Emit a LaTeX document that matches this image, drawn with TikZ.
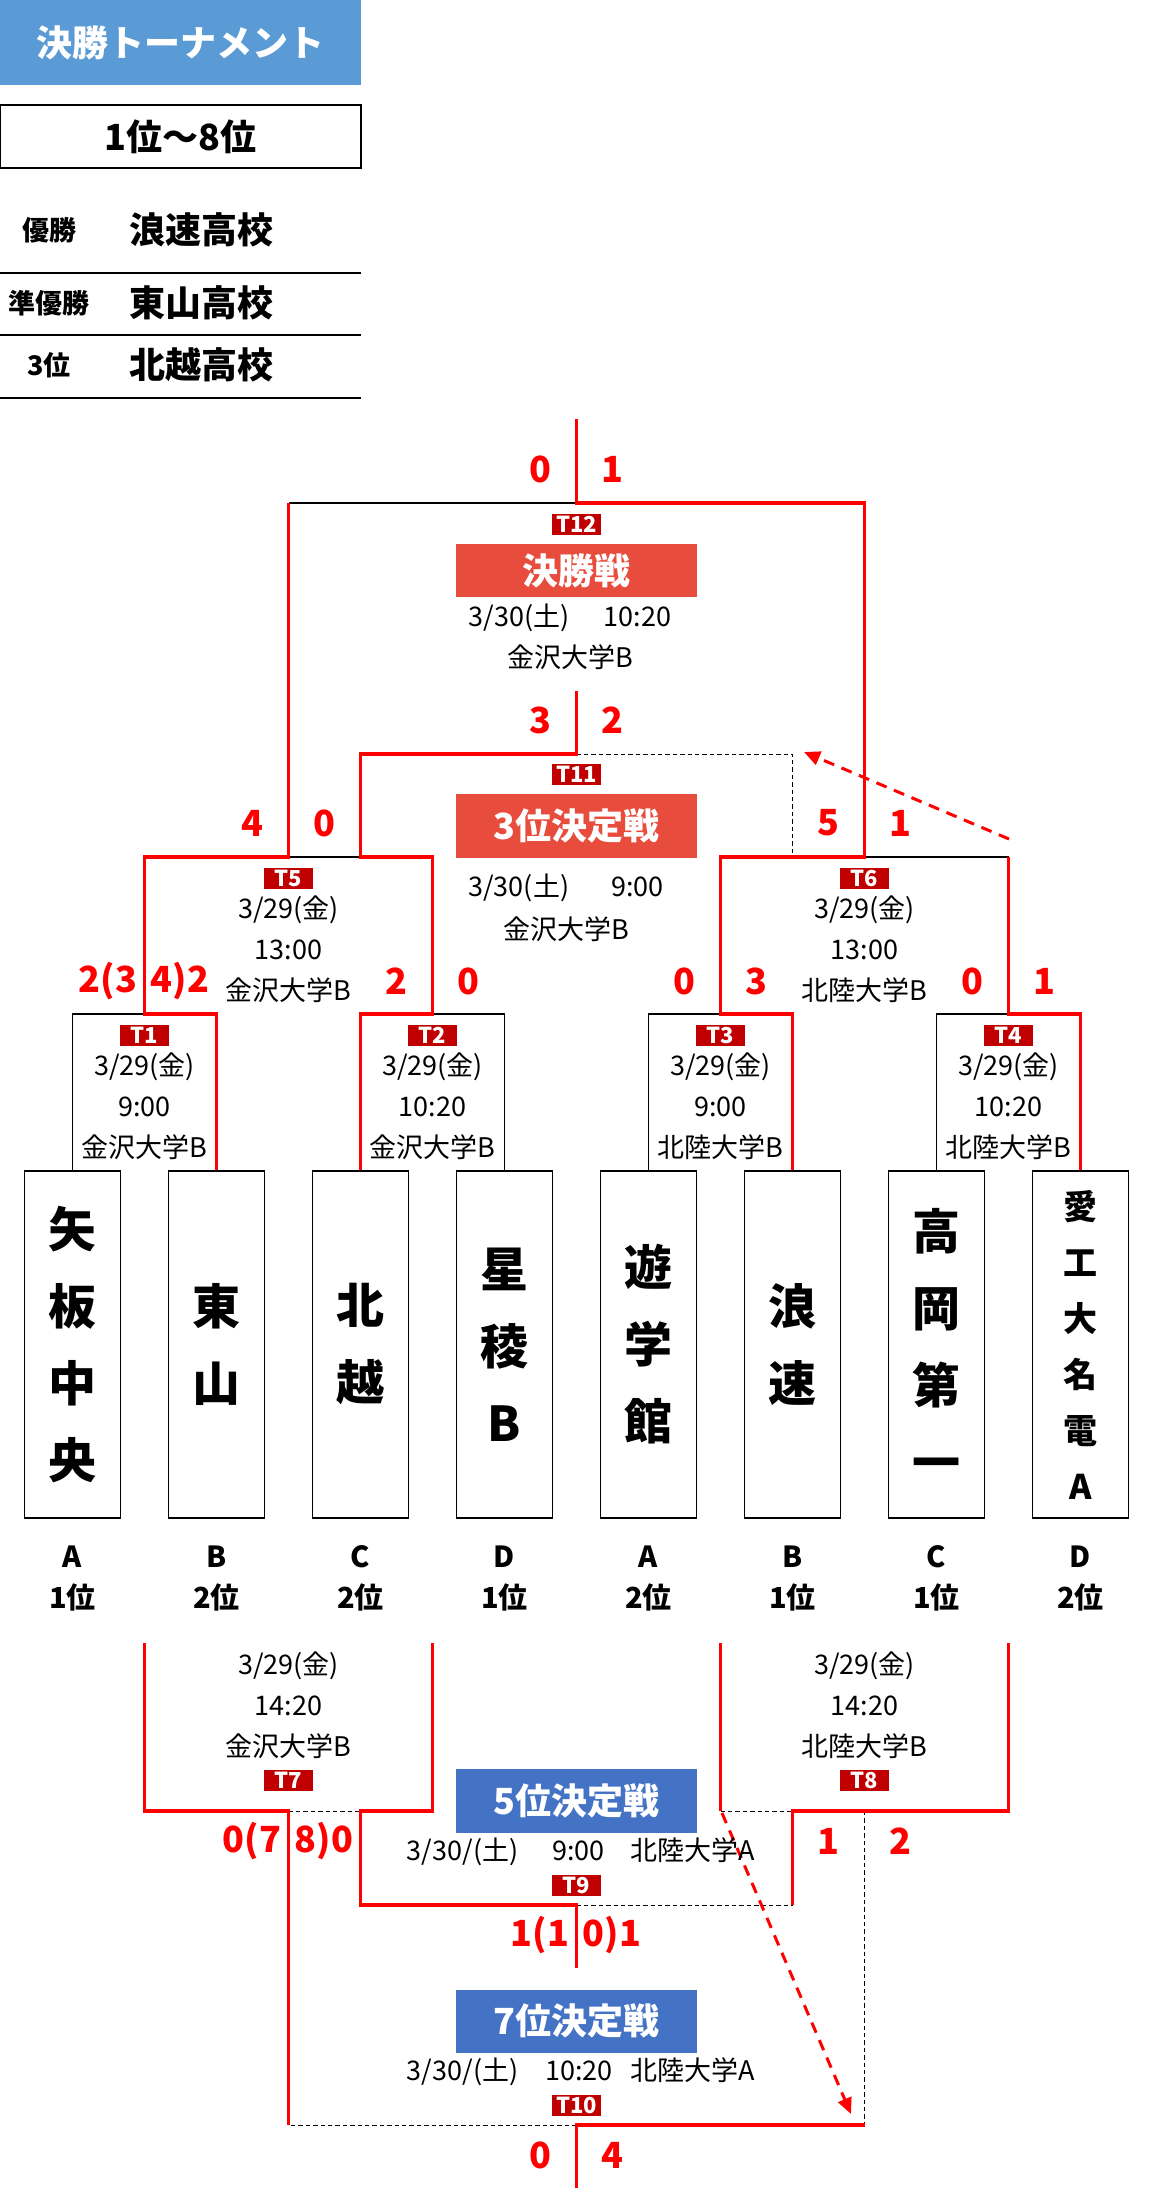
\documentclass[tikz,border=0pt]{standalone}
\usepackage{fontspec}
\setmainfont{Noto Sans CJK JP}
\usetikzlibrary{arrows.meta}
\definecolor{headblue}{HTML}{5B9BD5}
\definecolor{finalred}{HTML}{E74C3C}
\definecolor{tagred}{HTML}{C00000}
\definecolor{rankblue}{HTML}{4472C4}
\definecolor{winred}{HTML}{FF0000}

\tikzset{
  box/.style={draw, line width=0.65pt, inner sep=0pt},
  teambox/.style={box, minimum width=48pt, minimum height=173.5pt, align=center,
    font=\bfseries\fontsize{24pt}{38.5pt}\selectfont},
  smallteam/.style={teambox, font=\bfseries\fontsize{17pt}{28pt}\selectfont},
  info/.style={inner sep=0pt, align=center, font=\fontsize{13.5pt}{20.5pt}\selectfont},
  tag/.style={fill=tagred, text=white, inner sep=0pt, minimum width=24.5pt,
    minimum height=10.5pt, font=\bfseries\fontsize{11pt}{11pt}\selectfont},
  banner/.style={fill=finalred, text=white, inner sep=0pt, minimum width=120.5pt,
    font=\bfseries\fontsize{18pt}{18pt}\selectfont},
  rankbanner/.style={banner, fill=rankblue},
  score/.style={inner sep=0pt, text=winred, font=\bfseries\fontsize{18pt}{18pt}\selectfont},
  group/.style={inner sep=0pt, align=center, font=\bfseries\fontsize{14.5pt}{20.5pt}\selectfont},
  win/.style={draw=winred, line width=1.6pt},
  lose/.style={draw=black, line width=0.65pt},
  pend/.style={draw=black, line width=0.5pt, dash pattern=on 2.2pt off 1.5pt},
  jump/.style={draw=winred, line width=1.5pt, dash pattern=on 5.5pt off 4pt,
    -{Triangle[length=8pt,width=7pt]}}
}

\begin{document}
\begin{tikzpicture}[x=0.5pt, y=-0.5pt]
  \useasboundingbox (0,0) rectangle (1153,2210);

  % heading and results
  \node[fill=headblue, text=white, inner sep=0pt, minimum width=180.5pt, minimum height=42.5pt,
    font=\bfseries\fontsize{18pt}{18pt}\selectfont] (head) at (180.5,42.5) {決勝トーナメント};
  \node[box, minimum width=180.5pt, minimum height=31.5pt,
    font=\bfseries\fontsize{18pt}{18pt}\selectfont] (range) at (180.5,136.5) {1位〜8位};
  \node[font=\bfseries\fontsize{13.5pt}{13.5pt}\selectfont] (first) at (49,230) {優勝};
  \node[font=\bfseries\fontsize{18pt}{18pt}\selectfont] (firstname) at (201,230) {浪速高校};
  \node[font=\bfseries\fontsize{13.5pt}{13.5pt}\selectfont] (second) at (49,303) {準優勝};
  \node[font=\bfseries\fontsize{18pt}{18pt}\selectfont] (secondname) at (201,303) {東山高校};
  \node[font=\bfseries\fontsize{13.5pt}{13.5pt}\selectfont] (third) at (49,365) {3位};
  \node[font=\bfseries\fontsize{18pt}{18pt}\selectfont] (thirdname) at (201,365) {北越高校};
  \draw[lose] (0,273) -- (361,273) (0,335) -- (361,335) (0,398) -- (361,398);

  % teams
  \node[teambox] (yaita) at (72.5,1344.5) {矢\\板\\中\\央};
  \node[teambox] (higashi) at (216.5,1344.5) {東\\山};
  \node[teambox] (hokuetsu) at (360.5,1344.5) {北\\越};
  \node[teambox] (seiryo) at (504.5,1344.5) {星\\稜\\B};
  \node[teambox] (yugaku) at (648.5,1344.5) {遊\\学\\館};
  \node[teambox] (naniwa) at (792.5,1344.5) {浪\\速};
  \node[teambox] (takaoka) at (936.5,1344.5) {高\\岡\\第\\一};
  \node[smallteam] (aikou) at (1080.5,1344.5) {愛\\工\\大\\名\\電\\A};

  \node[group] (gyaita) at (72.5,1578.5) {A\\1位};
  \node[group] (ghigashi) at (216.5,1578.5) {B\\2位};
  \node[group] (ghokuetsu) at (360.5,1578.5) {C\\2位};
  \node[group] (gseiryo) at (504.5,1578.5) {D\\1位};
  \node[group] (gyugaku) at (648.5,1578.5) {A\\2位};
  \node[group] (gnaniwa) at (792.5,1578.5) {B\\1位};
  \node[group] (gtakaoka) at (936.5,1578.5) {C\\1位};
  \node[group] (gaikou) at (1080.5,1578.5) {D\\2位};

  % match points
  \coordinate (m1) at (144.5,1014);
  \coordinate (m2) at (432.5,1014);
  \coordinate (m3) at (720.5,1014);
  \coordinate (m4) at (1008.5,1014);
  \coordinate (m5) at (288.5,857);
  \coordinate (m6) at (864.5,857);
  \coordinate (m11) at (576.5,754);
  \coordinate (m12) at (576.5,503);
  \coordinate (top11) at (576.5,691);
  \coordinate (top12) at (576.5,419);
  \coordinate (in7l) at (144.5,1643);
  \coordinate (in7r) at (432.5,1643);
  \coordinate (in8l) at (720.5,1643);
  \coordinate (in8r) at (1008.5,1643);
  \coordinate (m7) at (288.5,1811);
  \coordinate (m8) at (864.5,1811);
  \coordinate (m9) at (576.5,1905);
  \coordinate (m10) at (576.5,2125);
  \coordinate (end9) at (576.5,1968);
  \coordinate (end10) at (576.5,2188);

  % lines of the bracket
  \draw[lose] (yaita.north) |- (m1);
  \draw[lose] (seiryo.north) |- (m2);
  \draw[lose] (yugaku.north) |- (m3);
  \draw[lose] (takaoka.north) |- (m4);
  \draw[lose] (m5) -- (m5 -| hokuetsu);
  \draw[lose] (m6) -- (m6 -| m4);
  \draw[lose] (m12) -- (m12 -| m5);
  \draw[pend] (m11) -| (m6 -| naniwa);
  \draw[pend] (m7) -- (m7 -| hokuetsu);
  \draw[pend] (m8 -| m3) -- (m8 -| naniwa);
  \draw[pend] (m9) -- (m9 -| naniwa);
  \draw[pend] (m10) -- (m10 -| m7);
  \draw[pend] (m8) -- (m8 |- m10);

  \draw[win] (higashi.north) |- (m1) -- (m1 |- m5) -- (m5) -- (m5 |- m12);
  \draw[win] (hokuetsu.north) |- (m2) -- (m2 |- m5) -| (m11 -| hokuetsu) -- (m11) -- (top11);
  \draw[win] (naniwa.north) |- (m3) -- (m3 |- m6) -- (m6) -- (m6 |- m12) -- (m12) -- (top12);
  \draw[win] (aikou.north) |- (m4) -- (m4 |- m6);
  \draw[win] (in7l) |- (m7) -- (m7 |- m10);
  \draw[win] (in7r) |- (m7 -| hokuetsu) -- (m9 -| hokuetsu) -- (m9) -- (end9);
  \draw[win] (in8l) -- (in8l |- m8);
  \draw[win] (in8r) |- (m8 -| naniwa) -- (m9 -| naniwa);
  \draw[win] (m10 -| m8) -- (m10) -- (end10);

  % loser moves
  \coordinate (j1s) at (1009,839);
  \coordinate (j1e) at (804,752);
  \coordinate (j2s) at (722,1813);
  \coordinate (j2e) at (851,2114);
  \draw[jump] (j1s) -- (j1e);
  \draw[jump] (j2s) -- (j2e);

  % match tags and details
  \node[tag] (t1) at (144.5,1035) {T1};
  \node[tag] (t2) at (432.5,1035) {T2};
  \node[tag] (t3) at (720.5,1035) {T3};
  \node[tag] (t4) at (1008.5,1035) {T4};
  \node[tag] (t5) at (288.5,878) {T5};
  \node[tag] (t6) at (864.5,878) {T6};
  \node[tag] (t7) at (288.5,1780) {T7};
  \node[tag] (t8) at (864.5,1780) {T8};
  \node[tag] (t9) at (576.5,1885) {T9};
  \node[tag] (t10) at (576.5,2105) {T10};
  \node[tag] (t11) at (576.5,774) {T11};
  \node[tag] (t12) at (576.5,524) {T12};

  \node[info] (d1) at (144.5,1106) {3/29(金)\\9:00\\金沢大学B};
  \node[info] (d2) at (432.5,1106) {3/29(金)\\10:20\\金沢大学B};
  \node[info] (d3) at (720.5,1106) {3/29(金)\\9:00\\北陸大学B};
  \node[info] (d4) at (1008.5,1106) {3/29(金)\\10:20\\北陸大学B};
  \node[info] (d5) at (288.5,949) {3/29(金)\\13:00\\金沢大学B};
  \node[info] (d6) at (864.5,949) {3/29(金)\\13:00\\北陸大学B};
  \node[info] (d7) at (288.5,1705) {3/29(金)\\14:20\\金沢大学B};
  \node[info] (d8) at (864.5,1705) {3/29(金)\\14:20\\北陸大学B};
  \node[info] (d12) at (570,637) {3/30(土)\hspace{17pt}10:20\\金沢大学B};
  \node[info] (d11) at (566,908) {3/30(土)\hspace{21pt}9:00\\[1pt]金沢大学B};
  \node[info] (d9) at (581,1852) {3/30/(土)\hspace{17pt}9:00\hspace{13pt}北陸大学A};
  \node[info] (d10) at (581,2072) {3/30/(土)\hspace{13.5pt}10:20\hspace{9pt}北陸大学A};

  \node[banner, minimum height=26.5pt] (final) at (576.5,570.5) {決勝戦};
  \node[banner, minimum height=32pt] (bronze) at (576.5,826) {3位決定戦};
  \node[rankbanner, minimum height=32pt] (fifth) at (576.5,1801) {5位決定戦};
  \node[rankbanner, minimum height=31.5pt] (seventh) at (576.5,2021) {7位決定戦};

  % scores
  \node[score] (s12a) at (540,469) {0};
  \node[score] (s12b) at (612,469) {1};
  \node[score] (s11a) at (540,720) {3};
  \node[score] (s11b) at (612,720) {2};
  \node[score] (s5a) at (252,823) {4};
  \node[score] (s5b) at (324,823) {0};
  \node[score] (s6a) at (828,823) {5};
  \node[score] (s6b) at (900,823) {1};
  \node[score] (s1a) at (108,981) {2(3};
  \node[score] (s1b) at (180,981) {4)2};
  \node[score] (s2a) at (396,981) {2};
  \node[score] (s2b) at (468,981) {0};
  \node[score] (s3a) at (684,981) {0};
  \node[score] (s3b) at (756,981) {3};
  \node[score] (s4a) at (972,981) {0};
  \node[score] (s4b) at (1044,981) {1};
  \node[score] (s7a) at (252,1841) {0(7};
  \node[score] (s7b) at (324,1841) {8)0};
  \node[score] (s8a) at (828,1841) {1};
  \node[score] (s8b) at (900,1841) {2};
  \node[score] (s9a) at (540,1935) {1(1};
  \node[score] (s9b) at (612,1935) {0)1};
  \node[score] (s10a) at (540,2155) {0};
  \node[score] (s10b) at (612,2155) {4};
\end{tikzpicture}
\end{document}
